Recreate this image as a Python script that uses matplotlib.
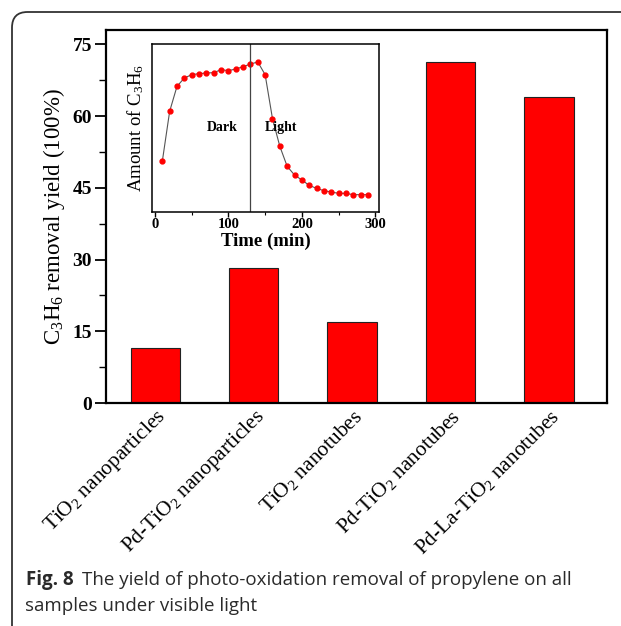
import matplotlib
matplotlib.use("Agg")
import matplotlib.pyplot as plt
from matplotlib.patches import FancyBboxPatch
from matplotlib.ticker import MultipleLocator

plt.rcParams['font.family'] = ['Liberation Serif', 'DejaVu Serif']
plt.rcParams['mathtext.fontset'] = 'custom'
plt.rcParams['mathtext.rm'] = 'Liberation Serif'
plt.rcParams['mathtext.it'] = 'Liberation Serif:italic'
plt.rcParams['mathtext.bf'] = 'Liberation Serif:bold'

# main bar data
samples = ['TiO$_2$ nanoparticles', 'Pd-TiO$_2$ nanoparticles', 'TiO$_2$ nanotubes',
           'Pd-TiO$_2$ nanotubes', 'Pd-La-TiO$_2$ nanotubes']
removal_yield = [11.5, 28.3, 17.0, 71.3, 64.1]

# inset: amount of C3H6 vs time (arbitrary units)
time_min = [10, 20, 30, 40, 50, 60, 70, 80, 90, 100, 110, 120, 130, 140, 150,
            160, 170, 180, 190, 200, 210, 220, 230, 240, 250, 260, 270, 280, 290]
amount = [15.2, 30.2, 37.7, 40.2, 41.2, 41.5, 41.7, 41.8, 42.7, 42.4, 42.9, 43.6,
          44.4, 45.0, 41.2, 28.0, 19.7, 13.7, 11.1, 9.6, 8.0, 7.1, 6.4, 6.0,
          5.6, 5.6, 5.2, 5.2, 5.2]
light_on = 130

fig = plt.figure(figsize=(6.21, 6.26), dpi=100)

# rounded frame around figure + caption
frame = FancyBboxPatch((12 / 621, -0.05), 1.2, 1 - 12 / 626 + 0.05,
                       boxstyle="round,pad=0,rounding_size=0.025",
                       transform=fig.transFigure, fill=False,
                       edgecolor='#333333', linewidth=1.3, clip_on=False)
fig.patches.append(frame)

ax = fig.add_axes([0.1707, 0.3562, 0.8068, 0.5958])
x = range(len(samples))
ax.bar(x, removal_yield, width=0.5, color='#ff0000', edgecolor='#222222', linewidth=0.8)
ax.set_xlim(-0.5, 4.59)
ax.set_ylim(0, 78)
ax.yaxis.set_major_locator(MultipleLocator(15))
ax.yaxis.set_minor_locator(MultipleLocator(7.5))
ax.tick_params(axis='y', which='major', direction='out', length=8, width=1.3, labelsize=14, pad=2)
ax.tick_params(axis='y', which='minor', direction='out', length=5, width=1.0)
ax.tick_params(axis='x', length=0, pad=2)
for lab in ax.get_yticklabels():
    lab.set_fontweight('bold')
ax.set_xticks(list(x))
ax.set_xticklabels(samples, rotation=45, ha='right', rotation_mode='anchor', fontsize=15.4)
ax.set_ylabel('C$_3$H$_6$ removal yield (100%)', fontsize=16.5, labelpad=4)
for s in ax.spines.values():
    s.set_linewidth(1.6)

# inset
ins = fig.add_axes([0.2448, 0.6613, 0.3655, 0.2684])
ins.plot(time_min, amount, '-', color='#555555', linewidth=0.8, zorder=1)
ins.plot(time_min, amount, 'o', color='#ff0000', markersize=3.5, zorder=2)
ins.axvline(light_on, color='#444444', linewidth=0.9)
ins.set_xlim(-4, 305)
ins.set_ylim(0, 50.4)
ins.set_yticks([])
ins.xaxis.set_major_locator(MultipleLocator(100))
ins.xaxis.set_minor_locator(MultipleLocator(50))
ins.tick_params(axis='x', which='major', direction='out', length=3.5, width=1.0, labelsize=10.5, pad=1)
ins.tick_params(axis='x', which='minor', direction='out', length=2, width=0.8)
for lab in ins.get_xticklabels():
    lab.set_fontweight('bold')
ins.set_xlabel('Time (min)', fontsize=13.5, fontweight='bold', labelpad=1)
ins.set_ylabel('Amount of C$_3$H$_6$', fontsize=13.5, labelpad=4)
ins.text(91, 25.4, 'Dark', fontsize=10, fontweight='bold', ha='center', va='center')
ins.text(171, 25.4, 'Light', fontsize=10, fontweight='bold', ha='center', va='center')
for s in ins.spines.values():
    s.set_linewidth(1.1)

# caption
cap_kw = dict(fontsize=13.5, family='Open Sans', color='#2a2a2a', va='center')
fig.text(26 / 621, 1 - 580 / 626, 'Fig. 8', fontweight='bold', **cap_kw)
fig.text(82 / 621, 1 - 580 / 626, 'The yield of photo-oxidation removal of propylene on all', **cap_kw)
fig.text(25 / 621, 1 - 606 / 626, 'samples under visible light', **cap_kw)

fig.savefig('out.png', dpi=100)
